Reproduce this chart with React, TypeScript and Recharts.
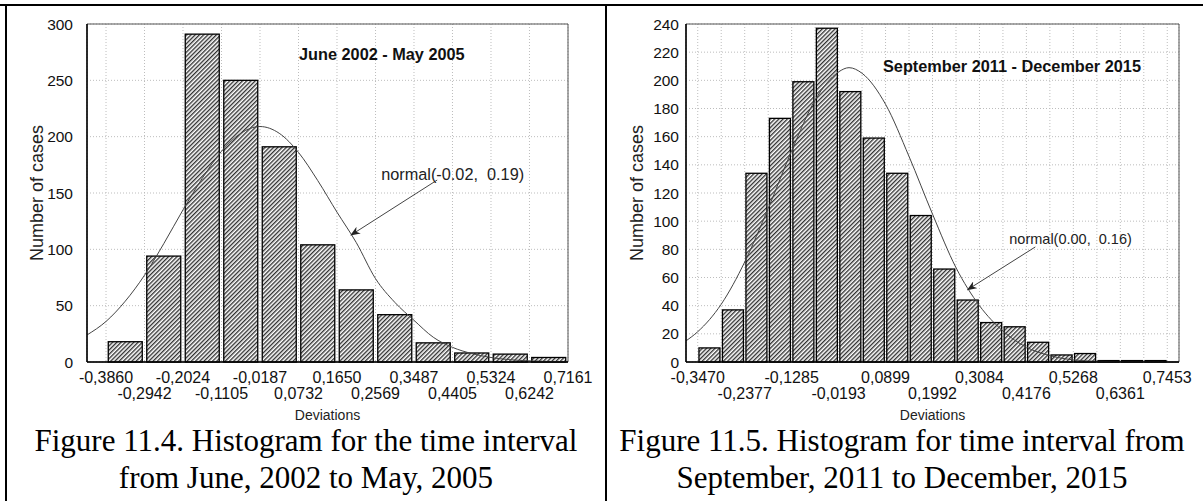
import React from 'react';
import { ComposedChart, Bar, Line, XAxis, YAxis, CartesianGrid, ReferenceLine, ReferenceArea } from 'recharts';

// left panel: June 2002 - May 2005
const LEFT_EDGES = [-0.386, -0.2942, -0.2024, -0.1105, -0.0187, 0.0732, 0.165, 0.2569, 0.3487, 0.4405, 0.5324, 0.6242, 0.7161];
const LEFT_COUNTS = [18, 94, 291, 250, 191, 104, 64, 42, 17, 8, 7, 4];
const LEFT_Y_TICKS = [0, 50, 100, 150, 200, 250, 300];
const LEFT_CURVE_X = [-0.4314, -0.386, -0.3401, -0.2942, -0.2483, -0.2024, -0.1565, -0.1105, -0.0646, -0.0187, 0.0272, 0.0732, 0.1191, 0.165, 0.211, 0.2569, 0.3028, 0.3487, 0.3946, 0.4405, 0.4865, 0.5324, 0.5783, 0.6242, 0.6702, 0.7161];
const LEFT_CURVE_Y = [24, 36, 54, 77, 105, 135, 163, 187, 203, 209, 203, 186, 161, 133, 106, 74, 53, 37, 22, 13, 7.5, 4, 2, 1, 0.5, 0.2];

// right panel: September 2011 - December 2015
const RIGHT_EDGES = [-0.347, -0.2924, -0.2377, -0.1831, -0.1285, -0.0739, -0.0193, 0.0353, 0.0899, 0.1445, 0.1992, 0.2538, 0.3084, 0.363, 0.4176, 0.4722, 0.5268, 0.5815, 0.6361, 0.6907, 0.7453];
const RIGHT_COUNTS = [10, 37, 134, 173, 199, 237, 192, 159, 134, 104, 66, 44, 28, 25, 14, 5, 6, 1, 1, 1];
const RIGHT_Y_TICKS = [0, 20, 40, 60, 80, 100, 120, 140, 160, 180, 200, 220, 240];
const RIGHT_CURVE_X = [-0.3743, -0.347, -0.2924, -0.2377, -0.1831, -0.1285, -0.0739, -0.0193, 0.005, 0.0353, 0.0899, 0.1445, 0.1992, 0.2538, 0.3084, 0.363, 0.4176, 0.4722, 0.5268, 0.5815, 0.6361, 0.6907, 0.7453, 0.7726];
const RIGHT_CURVE_Y = [15, 21.5, 41, 71, 109, 150, 186, 206, 209, 205, 183, 146, 105, 67, 40, 22, 10.5, 4.5, 1.5, 0.5, 0.2, 0.1, 0, 0];

const SANS = '"Liberation Sans", Arial, sans-serif';
const SERIF = '"Liberation Serif", "Times New Roman", serif';

const binData = (edges: number[], counts: number[]) =>
  counts.map((c, i) => ({ x: (edges[i] + edges[i + 1]) / 2, count: c }));

const curveData = (xs: number[], ys: number[]) => xs.map((x, i) => ({ x, y: ys[i] }));

const fmt = (v: number) => v.toFixed(4).replace('.', ',');

// two staggered rows of labels under the axis; `every` skips labels
const makeTick = (every: number) => (props: any) => {
  const { x, y, payload, index } = props;
  if (index % every !== 0) return <g />;
  const row = (index / every) % 2;
  return (
    <text x={x} y={y + (row === 0 ? 21 : 37)} textAnchor="middle" fontSize={16} fontFamily={SANS} fill="#111">
      {fmt(payload.value)}
    </text>
  );
};

const yTick = (props: any) => {
  const { x, y, payload } = props;
  return (
    <text x={x} y={y + 5.5} textAnchor="end" fontSize={15.5} fontFamily={SANS} fill="#111">
      {payload.value}
    </text>
  );
};

// histogram bars keep a fixed width around the bin centre
const hatchedBar = (size: number, fill: string) => (p: any) => {
  const cx = p.x + p.width / 2;
  if (!p.height) return <g />;
  return <rect x={cx - size / 2} y={p.y} width={size} height={p.height} fill={fill} stroke="#000" strokeWidth={1.3} />;
};

const arrowShape = (label: string, dx: number, dy: number, size: number) => (p: any) => (
  <g>
    <line x1={p.x1} y1={p.y1} x2={p.x2} y2={p.y2} stroke="#444" strokeWidth={1} markerEnd="url(#arrowHead)" />
    <text x={p.x1 + dx} y={p.y1 + dy} fontSize={size} fontFamily={SANS} fill="#222" style={{ whiteSpace: 'pre' }}>
      {label}
    </text>
  </g>
);

function Histogram(props: {
  id: string;
  width: number;
  yWidth: number;
  yGap: number;
  marginRight: number;
  edges: number[];
  counts: number[];
  curveX: number[];
  curveY: number[];
  yTicks: number[];
  xMin: number;
  barSize: number;
  labelEvery: number;
  arrow: { x: number; y: number }[];
  arrowLabel: string;
  labelDx: number;
  labelDy: number;
  labelSize: number;
}) {
  const bars = binData(props.edges, props.counts);
  const curve = curveData(props.curveX, props.curveY);
  const xMax = props.edges[props.edges.length - 1] + (props.labelEvery > 1 ? (props.edges[1] - props.edges[0]) / 2 : 0);
  const yMax = props.yTicks[props.yTicks.length - 1];
  return (
    <ComposedChart width={props.width} height={420} data={bars} margin={{ top: 24, right: props.marginRight, left: 0, bottom: 0 }}>
      <defs>
        <pattern id={'hatch' + props.id} patternUnits="userSpaceOnUse" width={3} height={3} patternTransform="rotate(45)">
          <rect width={3} height={3} fill="#fff" />
          <line x1={0.7} y1={0} x2={0.7} y2={3} stroke="#262626" strokeWidth={1.3} />
        </pattern>
        <marker id="arrowHead" markerWidth={10} markerHeight={8} refX={9} refY={4} orient="auto" markerUnits="userSpaceOnUse">
          <path d="M0,0 L10,4 L0,8 L3,4 z" fill="#222" />
        </marker>
      </defs>
      <CartesianGrid stroke="#bdbdbd" strokeDasharray="1 2" />
      <ReferenceArea x1={props.xMin} x2={xMax} y1={0} y2={yMax} fill="none" stroke="#555" strokeWidth={1} ifOverflow="visible" />
      <XAxis
        dataKey="x"
        type="number"
        domain={[props.xMin, xMax]}
        allowDataOverflow
        ticks={props.edges}
        interval={0}
        tick={makeTick(props.labelEvery)}
        tickLine={false}
        tickSize={0}
        tickMargin={0}
        height={58}
        axisLine={{ stroke: '#000', strokeWidth: 1.5 }}
      />
      <YAxis
        type="number"
        domain={[0, yMax]}
        ticks={props.yTicks}
        interval={0}
        width={props.yWidth}
        tickLine={false}
        tickSize={0}
        tickMargin={props.yGap}
        tick={yTick}
        axisLine={{ stroke: '#000', strokeWidth: 1.5 }}
      />
      <Bar dataKey="count" shape={hatchedBar(props.barSize, `url(#hatch${props.id})`)} isAnimationActive={false} />
      <Line data={curve} dataKey="y" type="monotone" stroke="#444" strokeWidth={1} dot={false} isAnimationActive={false} />
      <ReferenceLine
        segment={props.arrow}
        ifOverflow="visible"
        shape={arrowShape(props.arrowLabel, props.labelDx, props.labelDy, props.labelSize)}
      />
    </ComposedChart>
  );
}

const abs = (s: React.CSSProperties): React.CSSProperties => ({ position: 'absolute', ...s });

const rotated: React.CSSProperties = {
  position: 'absolute',
  left: 0,
  top: 0,
  transform: 'translate(-50%, -50%) rotate(-90deg)',
  whiteSpace: 'nowrap',
  font: `18px ${SANS}`,
  color: '#222',
};

export default function App() {
  return (
    <div style={abs({ left: 0, top: 0, width: 1203, height: 501, background: '#fff', overflow: 'hidden' })}>
      <div style={abs({ left: 0, top: 4, width: 1203, height: 2, background: '#000' })} />
      <div style={abs({ left: 5, top: 4, width: 2, height: 497, background: '#000' })} />
      <div style={abs({ left: 605, top: 4, width: 2, height: 497, background: '#000' })} />

      <div style={abs({ left: 0, top: 0 })}>
        <Histogram
          id="L"
          width={600}
          yWidth={87}
          yGap={14}
          marginRight={32}
          edges={LEFT_EDGES}
          counts={LEFT_COUNTS}
          curveX={LEFT_CURVE_X}
          curveY={LEFT_CURVE_Y}
          yTicks={LEFT_Y_TICKS}
          xMin={-0.4314}
          barSize={34}
          labelEvery={1}
          arrow={[{ x: 0.404, y: 161.5 }, { x: 0.1985, y: 112.7 }]}
          arrowLabel="normal(-0.02,  0.19)"
          labelDx={-56}
          labelDy={0}
          labelSize={16.3}
        />
      </div>
      <div style={abs({ left: 600, top: 0 })}>
        <Histogram
          id="R"
          width={603}
          yWidth={86}
          yGap={7}
          marginRight={24}
          edges={RIGHT_EDGES}
          counts={RIGHT_COUNTS}
          curveX={RIGHT_CURVE_X}
          curveY={RIGHT_CURVE_Y}
          yTicks={RIGHT_Y_TICKS}
          xMin={-0.3743}
          barSize={21}
          labelEvery={2}
          arrow={[{ x: 0.4383, y: 81.7 }, { x: 0.281, y: 51.4 }]}
          arrowLabel="normal(0.00,  0.16)"
          labelDx={-26}
          labelDy={-3}
          labelSize={14.5}
        />
      </div>

      <div style={abs({ left: 299, top: 45, font: `bold 16.3px ${SANS}`, color: '#111', whiteSpace: 'nowrap' })}>June 2002 - May 2005</div>
      <div style={abs({ left: 883, top: 57, font: `bold 16.3px ${SANS}`, color: '#111', whiteSpace: 'nowrap' })}>September 2011 - December 2015</div>

      <div style={abs({ left: 37, top: 193, width: 0, height: 0 })}>
        <div style={rotated}>Number of cases</div>
      </div>
      <div style={abs({ left: 637, top: 193, width: 0, height: 0 })}>
        <div style={rotated}>Number of cases</div>
      </div>
      <div style={abs({ left: 87, width: 481, top: 407, textAlign: 'center', font: `14px ${SANS}`, color: '#222' })}>Deviations</div>
      <div style={abs({ left: 686, width: 493, top: 407, textAlign: 'center', font: `14px ${SANS}`, color: '#222' })}>Deviations</div>

      <div style={abs({ left: 7, width: 598, top: 422, textAlign: 'center', font: `31px/37px ${SERIF}`, color: '#000', whiteSpace: 'nowrap' })}>
        Figure 11.4. Histogram for the time interval
        <br />
        from June, 2002 to May, 2005
      </div>
      <div style={abs({ left: 607, width: 590, top: 422, textAlign: 'center', font: `31px/37px ${SERIF}`, color: '#000', whiteSpace: 'nowrap' })}>
        Figure 11.5. Histogram for time interval from
        <br />
        September, 2011 to December, 2015
      </div>
    </div>
  );
}
